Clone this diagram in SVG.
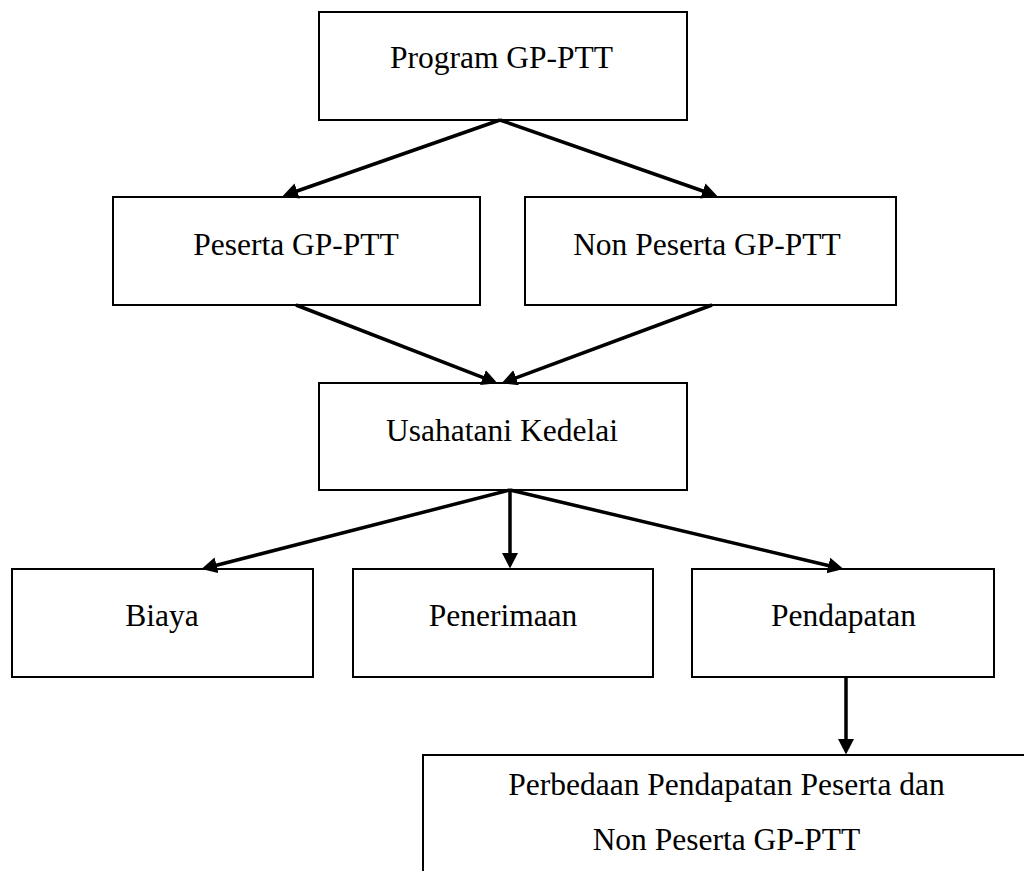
<svg xmlns="http://www.w3.org/2000/svg" width="1024" height="871" viewBox="0 0 1024 871">
<style>
.box{fill:#fff;stroke:#000;stroke-width:2}
.lbl{font-family:"Liberation Serif","Times New Roman",serif;font-size:31.5px;fill:#000;text-anchor:middle}
.arr{stroke:#000;stroke-width:3.5;fill:none;marker-end:url(#ah)}
</style>
<defs>
<marker id="ah" markerUnits="userSpaceOnUse" markerWidth="17" markerHeight="17" refX="3" refY="8" orient="auto">
<path d="M0,0 L15.5,8 L0,16 z" fill="#000"/>
</marker>
</defs>
<rect width="1024" height="871" fill="#fff"/>
<g id="program"><rect class="box" x="319" y="12" width="368" height="108"/><text class="lbl" x="501.5" y="68">Program GP-PTT</text></g>
<g id="peserta"><rect class="box" x="113" y="197" width="367" height="108"/><text class="lbl" x="296" y="255">Peserta GP-PTT</text></g>
<g id="nonpeserta"><rect class="box" x="525" y="197" width="371" height="108"/><text class="lbl" x="707" y="255">Non Peserta GP-PTT</text></g>
<g id="usahatani"><rect class="box" x="319" y="383" width="368" height="107"/><text class="lbl" x="502" y="441">Usahatani Kedelai</text></g>
<g id="biaya"><rect class="box" x="12" y="569" width="301" height="108"/><text class="lbl" x="162" y="626">Biaya</text></g>
<g id="penerimaan"><rect class="box" x="353" y="569" width="300" height="108"/><text class="lbl" x="503" y="626">Penerimaan</text></g>
<g id="pendapatan"><rect class="box" x="692" y="569" width="302" height="108"/><text class="lbl" x="843.5" y="626">Pendapatan</text></g>
<g id="perbedaan"><rect class="box" x="423" y="755" width="607" height="130"/><text class="lbl" x="726.5" y="795">Perbedaan Pendapatan Peserta dan</text><text class="lbl" x="726.5" y="850">Non Peserta GP-PTT</text></g>
<g id="connectors">
<line class="arr" x1="500" y1="120" x2="294.3" y2="192"/>
<line class="arr" x1="500" y1="120" x2="705.7" y2="192"/>
<line class="arr" x1="296" y1="305" x2="485.8" y2="378.7"/>
<line class="arr" x1="712" y1="305" x2="513.3" y2="378.8"/>
<line class="arr" x1="510" y1="490" x2="213.6" y2="566"/>
<line class="arr" x1="510" y1="490" x2="510" y2="556"/>
<line class="arr" x1="510" y1="490" x2="831.3" y2="566.2"/>
<line class="arr" x1="846" y1="677" x2="846" y2="742"/>
</g>
</svg>
